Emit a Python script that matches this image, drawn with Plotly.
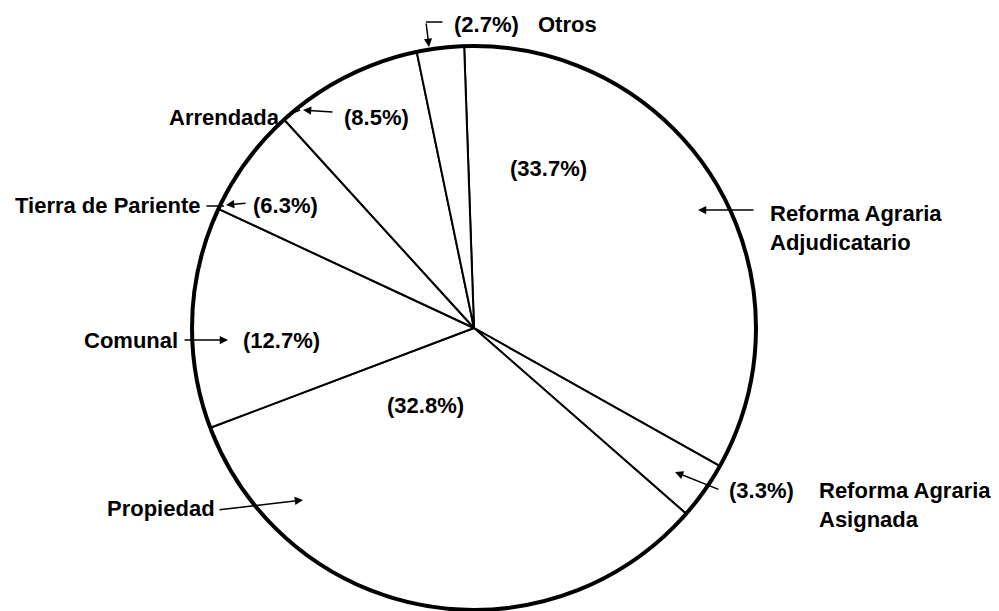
import plotly.graph_objects as go

# ---- data ----
categories = ["Reforma Agraria Adjudicatario", "Reforma Agraria Asignada", "Propiedad",
              "Comunal", "Tierra de Pariente", "Arrendada", "Otros"]
values = [33.7, 3.3, 32.8, 12.7, 6.3, 8.5, 2.7]
display_labels = ["Reforma Agraria<br>Adjudicatario", "Reforma Agraria<br>Asignada", "Propiedad",
                  "Comunal", "Tierra de Pariente", "Arrendada", "Otros"]
pct_labels = [f"({v}%)" for v in values]

W, H = 999, 611
cx, cy, r = 474, 328, 282

FONT = dict(family="Liberation Sans, Arial, sans-serif", size=22, color="black", weight="bold")

fig = go.Figure()
dom = dict(x=[(cx - r) / W, (cx + r) / W], y=[1 - (cy + r) / H, 1 - (cy - r) / H])
fig.add_trace(go.Pie(
    labels=categories, values=values, sort=False, direction="clockwise", rotation=-2,
    textinfo="none", hoverinfo="label+percent",
    marker=dict(colors=["white"] * len(values), line=dict(color="black", width=2)),
    domain=dom, showlegend=False,
))
# thicker outer rim
fig.add_trace(go.Pie(
    labels=["rim"], values=[1], textinfo="none", hoverinfo="skip",
    marker=dict(colors=["rgba(0,0,0,0)"], line=dict(color="black", width=4)),
    domain=dom, showlegend=False,
))

ann = []

def text(s, x, y, xanchor="center", align="center"):
    ann.append(dict(text=s, x=x, y=y, xref="x", yref="y", showarrow=False,
                    xanchor=xanchor, yanchor="middle", align=align, font=FONT))

def arrow(x0, y0, x1, y1, head=2):
    ann.append(dict(text="", x=x1, y=y1, ax=x0, ay=y0, xref="x", yref="y",
                    axref="x", ayref="y", showarrow=True, arrowhead=head,
                    arrowsize=1.1, arrowwidth=1.5, arrowcolor="black", standoff=0, startstandoff=0))

# Reforma Agraria Adjudicatario
text(pct_labels[0], 548, 168)
text(display_labels[0], 768, 228, xanchor="left", align="left")
arrow(755, 210, 698, 210)
# Reforma Agraria Asignada
text(pct_labels[1], 727, 490, xanchor="left")
text(display_labels[1], 817, 505, xanchor="left", align="left")
arrow(720, 490, 675, 472)
# Propiedad
text(pct_labels[2], 425, 405)
text(display_labels[2], 105, 508, xanchor="left")
arrow(218, 510, 303, 500)
# Comunal
text(pct_labels[3], 281, 340)
text(display_labels[3], 180, 340, xanchor="right")
arrow(183, 340, 228, 340)
# Tierra de Pariente
text(pct_labels[4], 285, 205)
text(display_labels[4], 202, 205, xanchor="right")
arrow(205, 206, 224, 206, head=0)
arrow(247, 203, 226, 205)
# Arrendada
text(pct_labels[5], 376, 117)
text(display_labels[5], 282, 117, xanchor="right")
arrow(285, 116, 300, 110, head=0)
arrow(334, 112, 303, 110)
# Otros
text(pct_labels[6], 452, 24, xanchor="left")
text(display_labels[6], 536, 24, xanchor="left")
arrow(444, 22, 426, 22, head=0)
arrow(426, 22, 429, 47)

fig.update_layout(
    width=W, height=H, margin=dict(l=0, r=0, t=0, b=0),
    paper_bgcolor="white", plot_bgcolor="rgba(0,0,0,0)",
    xaxis=dict(range=[0, W], visible=False, fixedrange=True),
    yaxis=dict(range=[H, 0], visible=False, fixedrange=True),
    annotations=ann, showlegend=False,
)
fig.write_html("out.html", config={"displayModeBar": False},
               post_script="document.body.style.margin='0';document.body.style.overflow='hidden';")
